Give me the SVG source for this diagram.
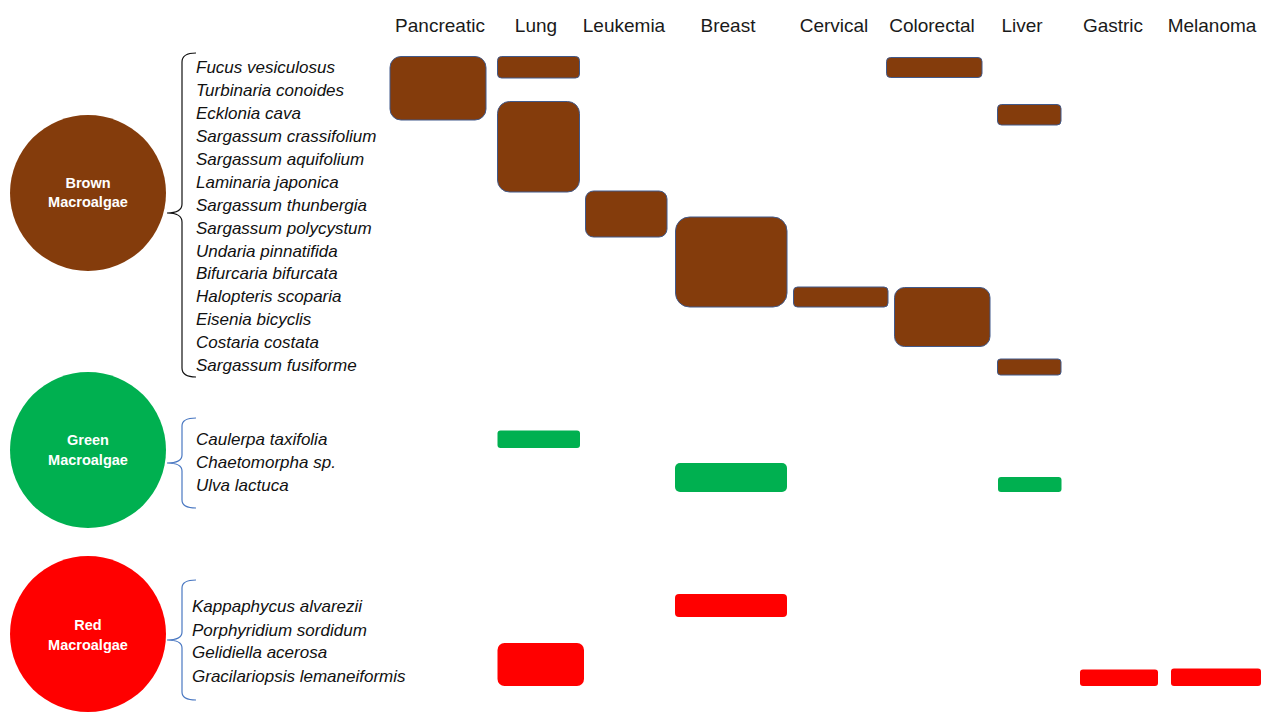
<svg xmlns="http://www.w3.org/2000/svg" width="1261" height="712" viewBox="0 0 1261 712">
<style>
.hdr{font-family:"Liberation Sans",Arial,sans-serif;font-size:19px;fill:#1a1a1a;text-anchor:middle}
.sp{font-family:"Liberation Sans",Arial,sans-serif;font-size:17px;font-style:italic;fill:#111}
.ct{font-family:"Liberation Sans",Arial,sans-serif;font-size:14.5px;font-weight:bold;fill:#fff;text-anchor:middle}
.br{fill:#843c0c;stroke:#41598a;stroke-width:1}
.gr{fill:#00b050}
.rd{fill:#ff0000}
.brace{fill:none;stroke-width:1.2}
</style>
<rect width="1261" height="712" fill="#fff"/>
<g id="headers">
<text class="hdr" x="440" y="32">Pancreatic</text>
<text class="hdr" x="536" y="32">Lung</text>
<text class="hdr" x="624" y="32">Leukemia</text>
<text class="hdr" x="728" y="32">Breast</text>
<text class="hdr" x="834" y="32">Cervical</text>
<text class="hdr" x="932" y="32">Colorectal</text>
<text class="hdr" x="1022" y="32">Liver</text>
<text class="hdr" x="1113" y="32">Gastric</text>
<text class="hdr" x="1212" y="32">Melanoma</text>
</g>
<g id="brown-node">
<circle cx="88" cy="193" r="78" fill="#843c0c"/>
<text class="ct" x="88" y="188">Brown</text>
<text class="ct" x="88" y="207">Macroalgae</text>
</g>
<g id="green-node">
<circle cx="88" cy="450" r="78" fill="#00b050"/>
<text class="ct" x="88" y="445">Green</text>
<text class="ct" x="88" y="465">Macroalgae</text>
</g>
<g id="red-node">
<circle cx="88" cy="634" r="78" fill="#ff0000"/>
<text class="ct" x="88" y="630">Red</text>
<text class="ct" x="88" y="650">Macroalgae</text>
</g>
<g id="connectors">
<path class="brace" stroke="#111" d="M196,53 Q182,53 182,62 L182,204 Q182,213 167,213 Q182,213 182,222 L182,368 Q182,377 196,377"/>
<path class="brace" stroke="#4a78c2" d="M196,418 Q182,418 182,426 L182,455 Q182,463 167,463 Q182,463 182,471 L182,500 Q182,508 196,508"/>
<path class="brace" stroke="#4a78c2" d="M196,580 Q182,580 182,588 L182,632 Q182,640 167,640 Q182,640 182,648 L182,692 Q182,700 196,700"/>
</g>
<g id="brown-species">
<text class="sp" x="196" y="73">Fucus vesiculosus</text>
<text class="sp" x="196" y="96">Turbinaria conoides</text>
<text class="sp" x="196" y="119">Ecklonia cava</text>
<text class="sp" x="196" y="142">Sargassum crassifolium</text>
<text class="sp" x="196" y="165">Sargassum aquifolium</text>
<text class="sp" x="196" y="188">Laminaria japonica</text>
<text class="sp" x="196" y="211">Sargassum thunbergia</text>
<text class="sp" x="196" y="234">Sargassum polycystum</text>
<text class="sp" x="196" y="257">Undaria pinnatifida</text>
<text class="sp" x="196" y="279">Bifurcaria bifurcata</text>
<text class="sp" x="196" y="302">Halopteris scoparia</text>
<text class="sp" x="196" y="325">Eisenia bicyclis</text>
<text class="sp" x="196" y="348">Costaria costata</text>
<text class="sp" x="196" y="371">Sargassum fusiforme</text>
</g>
<g id="green-species">
<text class="sp" x="196" y="445">Caulerpa taxifolia</text>
<text class="sp" x="196" y="468">Chaetomorpha sp.</text>
<text class="sp" x="196" y="491">Ulva lactuca</text>
</g>
<g id="red-species">
<text class="sp" x="192" y="612">Kappaphycus alvarezii</text>
<text class="sp" x="192" y="636">Porphyridium sordidum</text>
<text class="sp" x="192" y="658">Gelidiella acerosa</text>
<text class="sp" x="192" y="682">Gracilariopsis lemaneiformis</text>
</g>
<g id="brown-cells">
<rect class="br" x="390" y="56.5" width="96" height="63.5" rx="11"/>
<rect class="br" x="497.5" y="56.5" width="82" height="21.5" rx="4"/>
<rect class="br" x="497.5" y="101.5" width="82" height="90.5" rx="12"/>
<rect class="br" x="585.5" y="191" width="81.5" height="46" rx="8"/>
<rect class="br" x="675.5" y="217" width="111.5" height="90" rx="14"/>
<rect class="br" x="793.5" y="287" width="94.5" height="20" rx="4"/>
<rect class="br" x="886.5" y="57.5" width="95.5" height="20" rx="4"/>
<rect class="br" x="894.5" y="287.5" width="95.5" height="59" rx="10"/>
<rect class="br" x="997.5" y="104.5" width="63.5" height="20.5" rx="4"/>
<rect class="br" x="997.5" y="359" width="63.5" height="16" rx="3"/>
</g>
<g id="green-cells">
<rect class="gr" x="497.5" y="430.5" width="82.5" height="17.5" rx="3"/>
<rect class="gr" x="675" y="463" width="112" height="29" rx="5"/>
<rect class="gr" x="998" y="477" width="63.5" height="15" rx="3"/>
</g>
<g id="red-cells">
<rect class="rd" x="675" y="594" width="112" height="23" rx="4"/>
<rect class="rd" x="497.5" y="643" width="86.5" height="43" rx="7"/>
<rect class="rd" x="1080" y="669.5" width="78" height="16.5" rx="3"/>
<rect class="rd" x="1171" y="668.5" width="90" height="17.5" rx="3"/>
</g>
</svg>
